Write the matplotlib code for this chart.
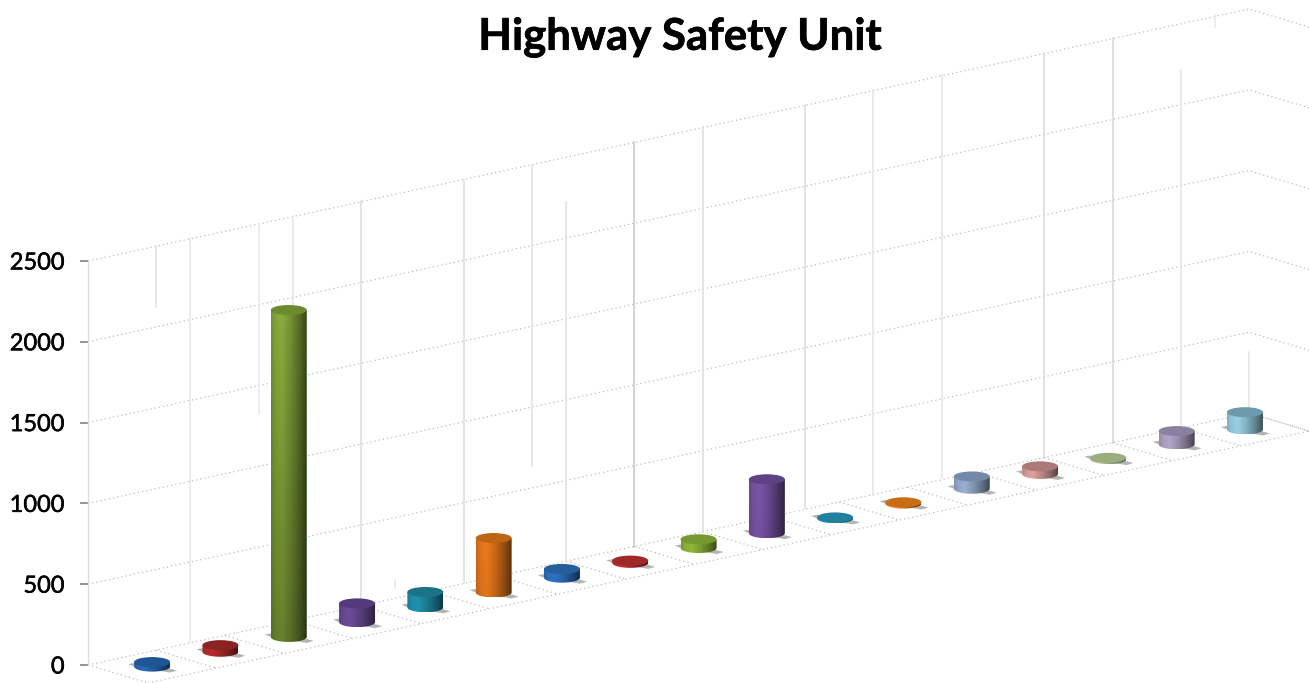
import numpy as np
import matplotlib
matplotlib.use("Agg")
import matplotlib.pyplot as plt
import matplotlib.patheffects as pe
from matplotlib.patches import Ellipse, PathPatch, Polygon
from matplotlib.path import Path
from matplotlib.colors import to_rgb

WIDTH, HEIGHT = 1309, 683
PX_PER_CAT = 68.3
PX_PER_UNIT = 0.1616

TITLE = "Highway Safety Unit"
Y_TICKS = [0, 500, 1000, 1500, 2000, 2500]

# one value per cylinder
values = [28, 41, 2023, 116, 95, 337, 54, 14, 54, 334, 6, 8, 76, 47, 8, 82, 107]
body_colors = [
    "#2a6ab8", "#b52c2c", "#88ad3c", "#6d4c98", "#2092ae", "#ec7a1c",
    "#2f73c4", "#c03030", "#90b83a", "#7c55a8", "#1ea2c4", "#ee8018",
    "#9ab0d4", "#dca2a0", "#b4c890", "#b4a6ca", "#9ad2e6",
]
top_colors = [
    "#1f5694", "#8b2323", "#6c8a2e", "#54397c", "#1c7388", "#bd6512",
    "#255f9c", "#a12828", "#76992f", "#5f4285", "#20809e", "#c96d15",
    "#7488a8", "#ab7a78", "#9aae7e", "#8a80a0", "#6d9bac",
]

# leftover vertical wall lines: category position, value at both ends, grey
wall_pos = [1, 1.5, 2.5, 3, 4, 4.5, 5.5, 6.5, 7, 8, 9, 10.5, 11.5, 12.5, 14, 15, 16, 16.5, 17]
wall_top = [2593, 2642, 2723, 2778, 2871, 526, 3001, 3094, 2865, 3236, 3329,
            3465, 3558, 3651, 3787, 3880, 3682, 4022, 1937]
wall_bottom = [2215, 142, 1553, 229, 402, 476, 507, 1231, 637, 730, 823,
               971, 1052, 1157, 1293, 1374, 1467, 3948, 1597]
wall_grey = ["#e0e0e0", "#e8e8e8", "#e8e8e8", "#e6e6e6", "#dcdcdc", "#e6e6e6",
             "#dedede", "#e2e2e2", "#e0e0e0", "#c8c8c8", "#dedede", "#dadada",
             "#e4e4e4", "#e6e6e6", "#dadada", "#d6d6d6", "#e4e4e4", "#e8e8e8",
             "#e4e4e4"]

N = len(values)
RISE = 14.82 / PX_PER_UNIT      # wall climbs this many units per category
DEPTH_X = 60 / PX_PER_CAT       # floor depth, in categories
DEPTH_Y = 18 / PX_PER_UNIT      # floor depth, in units
RX = 18 / PX_PER_CAT
RY = 5 / PX_PER_UNIT


def project(cat, val, depth=0.0):
    return cat + depth * DEPTH_X, val + cat * RISE - depth * DEPTH_Y


def shade(color, val):
    # side lighting across the cylinder, tall ones also darken towards the floor
    stops = np.array([0.0, 0.12, 0.3, 0.55, 0.8, 1.0])
    gain = np.array([0.84, 0.95, 1.0, 0.84, 0.62, 0.40])
    ramp = np.interp(np.linspace(0, 1, 60), stops, gain)
    fall = np.linspace(1.0, 1.0 - 0.25 * min(val / 2000, 1), 50)
    return np.clip(fall[:, None, None] * ramp[None, :, None] * np.array(to_rgb(color)), 0, 1)


plt.rcParams["font.family"] = ["Lato", "DejaVu Sans"]
fig = plt.figure(figsize=(WIDTH / 100, HEIGHT / 100), dpi=100, facecolor="white")
ax = fig.add_axes((0, 0, 1, 1))
ax.set_autoscale_on(False)

# y axis runs on the real scale, with its spine moved in to category 0
ax.spines[["top", "bottom", "right"]].set_visible(False)
ax.spines["left"].set_position(("data", 0))
ax.spines["left"].set_bounds(0, 2500)
ax.spines["left"].set_color("#dcdcdc")
ax.spines["left"].set_linewidth(1.0)
ax.xaxis.set_visible(False)
ax.set_yticks(Y_TICKS)
ax.tick_params(axis="y", length=5.8, width=1.3, color="#8a8a8a", pad=11,
               labelsize=17, labelcolor="black")
for label in ax.get_yticklabels():
    label.set_path_effects([pe.withStroke(linewidth=0.35, foreground="black")])

dotted = dict(color="#bcbcbc", lw=0.9, ls=(0, (1.0, 2.4)), zorder=1)

# wall and side wall gridlines
for v in Y_TICKS:
    x, y = zip(project(0, v), project(N, v), project(N, v, 1))
    ax.plot(x, y, **dotted)

# floor
for k in range(N + 1):
    x, y = zip(project(k, 0), project(k, 0, 1))
    ax.plot(x, y, **dotted)
x, y = zip(project(0, 0, 1), project(N, 0, 1))
ax.plot(x, y, **dotted)

for pos, top, bottom, grey in zip(wall_pos, wall_top, wall_bottom, wall_grey):
    ax.plot([pos, pos], [bottom, top], color=grey, lw=1.1, zorder=1.5)

for i, val in enumerate(values):
    cx, base = project(i + 0.5, 0, 0.5)
    top = base + val

    # shadow lying on the floor, pokes out on both sides of the cylinder
    shadow = [(-24, 2.5), (-18, 3.6), (18, -2), (25, -4), (18, -6), (-18, 0)]
    pts = [(cx + dx / PX_PER_CAT, base + dy / PX_PER_UNIT) for dx, dy in shadow]
    ax.add_patch(Polygon(pts, closed=True, fc="#b4b4b4", ec="none", zorder=2))

    # body: flat edge on top, half ellipse under it, filled with a side-lit ramp
    t = np.linspace(np.pi, 2 * np.pi, 40)
    outline = [(cx - RX, top)] + list(zip(cx + RX * np.cos(t), base + RY * np.sin(t))) + [(cx + RX, top)]
    clip = PathPatch(Path(outline + [outline[0]], closed=True), transform=ax.transData)
    im = ax.imshow(shade(body_colors[i], val), extent=(cx - RX, cx + RX, base - RY, top),
                   aspect="auto", interpolation="bilinear", zorder=3 + i * 0.01)
    im.set_clip_path(clip)

    ax.add_patch(Ellipse((cx, top), 2 * RX, 2 * RY, fc=top_colors[i], ec="none",
                         zorder=3.005 + i * 0.01))

ax.set_xlim(-88 / PX_PER_CAT, (WIDTH - 88) / PX_PER_CAT)
ax.set_ylim(-18 / PX_PER_UNIT, 665 / PX_PER_UNIT)

fig.text(680 / WIDTH, 1 - 37 / HEIGHT, TITLE, ha="center", va="center",
         fontsize=31.5, fontweight="bold", color="black",
         path_effects=[pe.withStroke(linewidth=0.5, foreground="black")])

fig.savefig("out.png", dpi=100)
